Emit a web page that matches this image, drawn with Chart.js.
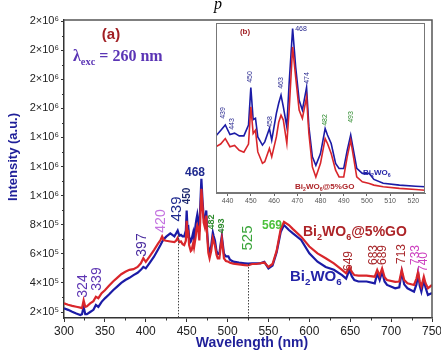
<!DOCTYPE html>
<html><head><meta charset="utf-8">
<script src="https://cdn.jsdelivr.net/npm/chart.js@4.4.0/dist/chart.umd.min.js"></script>
<style>
html,body{margin:0;padding:0;background:#fff;}
#wrap{position:relative;width:441px;height:350px;overflow:hidden;}
#main{position:absolute;left:0;top:0;width:441px;height:350px;}
#inset{position:absolute;left:206px;top:18px;width:224px;height:192px;}
</style></head><body>
<div id="wrap">
<canvas id="main" width="441" height="350"></canvas>
<canvas id="inset" width="224" height="192"></canvas>
</div>
<script>
// ---------- DATA ----------
const wavelengths = [
 300,305,310,315,320,322,324,326,328,332,
 336,339,342,346,350,355,360,365,370,375,
 380,385,390,394,397,400,405,410,415,418,
 420,422,425,430,435,437,439,441,443,445,
 447,449,450,451,452,453,455,456,458,459,
 461,462,463,464,465.5,466.5,468,469.3,470.8,472.2,
 474,475,476.5,478,480,482,483,484.6,486.5,488,
 490,491.5,493,494.2,495.6,498,501,503,507,514,
 521,525,530,535,540,545,550,555,560,565,
 569,575,580,590,600,610,620,630,640,645,
 649,652,655,660,670,680,683,686,689,692,
 695,705,710,713,716,720,728,731,733,735,
 737,740,742,745,750
];
const bi2wo6 = [
 2.25e5,2.15e5,2.02e5,1.90e5,1.80e5,1.85e5,2.36e5,1.85e5,1.85e5,2.00e5,
 2.15e5,2.48e5,2.35e5,2.70e5,2.94e5,3.20e5,3.50e5,3.75e5,4.00e5,4.20e5,
 4.35e5,4.54e5,4.70e5,4.90e5,5.10e5,5.00e5,5.40e5,5.80e5,6.30e5,6.60e5,
 6.83e5,7.00e5,7.18e5,7.40e5,7.20e5,7.40e5,7.60e5,7.25e5,7.30e5,7.20e5,
 7.20e5,7.60e5,8.98e5,7.80e5,7.85e5,7.16e5,6.86e5,6.98e5,7.47e5,7.04e5,
 8.03e5,8.40e5,8.70e5,8.27e5,7.53e5,9.14e5,11.15e5,9.74e5,8.51e5,8.15e5,
 8.98e5,7.53e5,6.43e5,6.12e5,6.55e5,7.47e5,7.23e5,6.92e5,6.19e5,6.00e5,
 6.00e5,6.67e5,7.23e5,6.67e5,6.01e5,5.82e5,5.82e5,5.60e5,5.46e5,5.39e5,
 5.35e5,5.33e5,5.35e5,5.35e5,5.35e5,5.45e5,5.00e5,5.20e5,6.10e5,7.50e5,
 7.98e5,7.64e5,7.40e5,6.95e5,6.03e5,5.46e5,5.10e5,4.90e5,4.54e5,4.30e5,
 4.90e5,4.45e5,4.20e5,4.10e5,4.10e5,3.97e5,4.65e5,4.20e5,4.77e5,4.10e5,
 3.86e5,3.63e5,3.70e5,4.77e5,3.90e5,3.63e5,3.40e5,3.90e5,4.66e5,3.80e5,
 3.40e5,4.20e5,3.70e5,3.17e5,3.30e5
];
const bi2wo6GO = [
 2.60e5,2.50e5,2.42e5,2.36e5,2.30e5,2.27e5,2.80e5,2.36e5,2.40e5,2.60e5,
 2.75e5,3.05e5,2.95e5,3.30e5,3.50e5,3.80e5,4.10e5,4.35e5,4.60e5,4.77e5,
 4.90e5,4.95e5,5.10e5,5.35e5,5.70e5,5.45e5,5.85e5,6.26e5,6.70e5,6.95e5,
 7.20e5,6.95e5,6.90e5,6.85e5,6.80e5,6.90e5,7.10e5,6.80e5,6.85e5,6.67e5,
 6.60e5,6.90e5,8.27e5,7.29e5,7.41e5,6.61e5,6.19e5,6.25e5,6.74e5,6.43e5,
 7.16e5,7.70e5,7.96e5,7.78e5,6.92e5,8.15e5,10.47e5,9.37e5,8.15e5,7.84e5,
 8.63e5,7.29e5,6.06e5,5.69e5,6.19e5,7.10e5,6.92e5,6.55e5,5.94e5,5.69e5,
 5.69e5,6.43e5,7.04e5,6.43e5,5.69e5,5.51e5,5.45e5,5.39e5,5.33e5,5.27e5,
 5.23e5,5.20e5,5.30e5,5.30e5,5.35e5,5.40e5,5.10e5,5.30e5,6.20e5,7.70e5,
 8.20e5,7.98e5,7.70e5,7.18e5,6.50e5,6.03e5,5.70e5,5.35e5,4.90e5,4.66e5,
 5.10e5,4.75e5,4.54e5,4.50e5,4.50e5,4.43e5,4.89e5,4.50e5,5.00e5,4.40e5,
 4.20e5,4.08e5,4.10e5,4.89e5,4.20e5,3.97e5,3.86e5,4.30e5,4.77e5,4.10e5,
 3.75e5,4.43e5,4.00e5,3.63e5,3.86e5
];
const xTicks = [300,350,400,450,500,550,600,650,700,750];
const xMinorTicks = [325,375,425,475,525,575,625,675,725];
const yTickValues = [2e5,4e5,6e5,8e5,1.0e6,1.2e6,1.4e6,1.6e6,1.8e6,2.0e6,2.2e6];
const yTickLabels = ['2×10⁵','4×10⁵','6×10⁵','8×10⁵','1×10⁶','1×10⁶','1×10⁶','2×10⁶','2×10⁶','2×10⁶','2×10⁶'];
const yMinorTicks = [3e5,5e5,7e5,9e5,1.1e6,1.3e6,1.5e6,1.7e6,1.9e6,2.1e6];
const insetXTicks = [440,450,460,470,480,490,500,510,520];
const dropLines = [[439,7.3e5],[525,5.3e5]];

// ---------- STYLE ----------
const SANS = "'Liberation Sans', Arial, sans-serif";
const SERIF = "'Liberation Serif', 'Times New Roman', serif";
const BLUE = '#1b1ba6', RED = '#d9262b';
const NAVY = '#1f1f99', DRED = '#ad2428';

function pts(arr){ return wavelengths.map((w,i)=>({x:w,y:arr[i]})); }

function txt(ctx,s,x,y,font,color,align,base){
  ctx.font=font; ctx.fillStyle=color; ctx.textAlign=align||'center'; ctx.textBaseline=base||'middle';
  ctx.fillText(s,x,y);
}
function rot(ctx,s,x,y,font,color){
  ctx.save(); ctx.translate(x,y); ctx.rotate(-Math.PI/2);
  txt(ctx,s,0,0,font,color,'center','middle'); ctx.restore();
}
function formula(ctx,parts,x,y,size,color,family,weight){
  ctx.fillStyle=color; ctx.textAlign='left'; ctx.textBaseline='alphabetic';
  let cx=x;
  parts.forEach(([s,sub])=>{
    const fs = sub? size*0.65 : size;
    ctx.font = (weight||'bold')+' '+fs+'px '+family;
    ctx.fillText(s,cx,y+(sub?size*0.25:0));
    cx += ctx.measureText(s).width;
  });
}

const mainDecor = {
  id:'mainDecor',
  afterDraw(chart){
    const {ctx, chartArea:a, scales:{x,y}} = chart;
    ctx.save();
    ctx.strokeStyle='#555'; ctx.lineWidth=1.5;
    ctx.beginPath(); ctx.moveTo(a.left,a.top); ctx.lineTo(a.right,a.top); ctx.lineTo(a.right,a.bottom); ctx.stroke();
    ctx.strokeStyle='#333'; ctx.lineWidth=1;
    ctx.beginPath();
    xMinorTicks.forEach(v=>{const p=Math.round(x.getPixelForValue(v))+0.5; ctx.moveTo(p,a.bottom); ctx.lineTo(p,a.bottom+2.5);});
    yMinorTicks.forEach(v=>{const p=Math.round(y.getPixelForValue(v))+0.5; ctx.moveTo(a.left,p); ctx.lineTo(a.left-2,p);});
    ctx.stroke();
    ctx.strokeStyle='#444'; ctx.lineWidth=1; ctx.setLineDash([1.5,1.5]);
    dropLines.forEach(([wx,wy])=>{
      const px=Math.round(x.getPixelForValue(wx))+0.5;
      ctx.beginPath(); ctx.moveTo(px,y.getPixelForValue(wy)); ctx.lineTo(px,a.bottom); ctx.stroke();
    });
    ctx.setLineDash([]);
    txt(ctx,'Wavelength (nm)',252,343,'bold 14px '+SANS,NAVY);
    rot(ctx,'Intensity (a.u.)',13,157,'bold 13px '+SANS,NAVY);
    txt(ctx,'p',218,5,'italic 16px '+SERIF,'#000','center','middle');
    txt(ctx,'(a)',111,35,'bold 15px '+SANS,'#a11f24');
    formula(ctx,[['λ',0],['exc',1],[' = 260 nm',0]],73,61,16,'#5b35b5',SERIF,'bold');
    rot(ctx,'324',83,286,'14px '+SANS,'#5e36b3');
    rot(ctx,'339',97,279,'14px '+SANS,'#5e36b3');
    rot(ctx,'397',142,245,'14px '+SANS,'#4a2c9f');
    rot(ctx,'420',161,221,'14px '+SANS,'#c473e0');
    rot(ctx,'439',177,209,'15px '+SANS,'#1f2a8f');
    rot(ctx,'450',187,196,'bold 10px '+SANS,'#1f2a6f');
    txt(ctx,'468',195,173,'bold 12px '+SANS,'#1f2a8f');
    rot(ctx,'482',212,222,'bold 9px '+SANS,'#2e8b2e');
    rot(ctx,'493',222,226,'bold 9px '+SANS,'#2e8b2e');
    rot(ctx,'525',248,238,'15px '+SANS,'#3aa53a');
    txt(ctx,'569',272,226,'bold 12px '+SANS,'#4cc13c');
    rot(ctx,'649',349,261,'12px '+SANS,'#a8282c');
    rot(ctx,'683',374,255,'12px '+SANS,'#a8282c');
    rot(ctx,'689',383,255,'12px '+SANS,'#a8282c');
    rot(ctx,'713',402,254,'12px '+SANS,'#a8282c');
    rot(ctx,'733',416,255,'12px '+SANS,'#cc3fbf');
    rot(ctx,'740',424,262,'12px '+SANS,'#cc3fbf');
    formula(ctx,[['Bi',0],['2',1],['WO',0],['6',1],['@5%GO',0]],303,236,14,DRED,SANS,'bold');
    formula(ctx,[['Bi',0],['2',1],['WO',0],['6',1]],290,281,15,'#2424a8',SANS,'bold');
    ctx.restore();
  }
};

const OX=206, OY=18;
const insetDecor = {
  id:'insetDecor',
  afterDraw(chart){
    const {ctx, chartArea:a} = chart;
    ctx.save();
    ctx.strokeStyle='#777'; ctx.lineWidth=1;
    ctx.strokeRect(a.left+0.5,a.top+0.5,a.right-a.left-1,a.bottom-a.top-1);
    ctx.translate(-OX,-OY);
    txt(ctx,'(b)',245,32,'bold 8px '+SANS,'#a11f24');
    rot(ctx,'439',223,113,'7px '+SANS,'#2a2a90');
    rot(ctx,'443',232,124,'7px '+SANS,'#2a2a90');
    rot(ctx,'450',250,77,'7px '+SANS,'#2a2a90');
    rot(ctx,'458',270,122,'7px '+SANS,'#2a2a90');
    rot(ctx,'463',281,83,'7px '+SANS,'#2a2a90');
    txt(ctx,'468',301,29,'7px '+SANS,'#2a2a90');
    rot(ctx,'474',307,78,'7px '+SANS,'#2a2a90');
    rot(ctx,'482',325,120,'7px '+SANS,'#2e8b2e');
    rot(ctx,'493',351,117,'7px '+SANS,'#2e8b2e');
    formula(ctx,[['Bi',0],['2',1],['WO',0],['6',1]],363,175,8,'#2424a8',SANS,'bold');
    formula(ctx,[['Bi',0],['2',1],['WO',0],['6',1],['@5%GO',0]],295,189,8,DRED,SANS,'bold');
    ctx.restore();
  }
};

function datasets(w){
  return [
    {label:'Bi2WO6@5%GO', data:pts(bi2wo6GO), borderColor:RED, borderWidth:w, pointRadius:0, tension:0, fill:false},
    {label:'Bi2WO6', data:pts(bi2wo6), borderColor:BLUE, borderWidth:w, pointRadius:0, tension:0, fill:false}
  ];
}

new Chart(document.getElementById('main'), {
  type:'line',
  data:{datasets:datasets(2.2)},
  options:{
    responsive:false, animation:false, events:[],
    layout:{padding:{left:0,top:20,right:9,bottom:0}},
    plugins:{legend:{display:false}, tooltip:{enabled:false}},
    scales:{
      x:{type:'linear', min:300, max:750,
        afterBuildTicks:s=>{s.ticks=xTicks.map(v=>({value:v}));},
        afterFit:s=>{s.height=32; s.paddingLeft=0; s.paddingRight=0;},
        ticks:{autoSkip:false, maxRotation:0, color:'#222', font:{family:SANS,size:12}, padding:2},
        grid:{drawOnChartArea:false, tickLength:4, color:'#333'},
        border:{color:'#333', width:1.5}},
      y:{type:'linear', min:1.59e5, max:2.207e6,
        afterBuildTicks:s=>{s.ticks=yTickValues.map(v=>({value:v}));},
        afterFit:s=>{s.width=64; s.paddingTop=0; s.paddingBottom=0;},
        ticks:{autoSkip:false, callback:(v,i)=>yTickLabels[i], color:'#222', font:{family:SANS,size:11}, padding:2},
        grid:{drawOnChartArea:false, tickLength:3, color:'#333'},
        border:{color:'#333', width:1.5}}
    }
  },
  plugins:[mainDecor]
});

new Chart(document.getElementById('inset'), {
  type:'line',
  data:{datasets:datasets(1.6)},
  options:{
    responsive:false, animation:false, events:[],
    layout:{padding:{left:10,top:5,right:5,bottom:0}},
    plugins:{legend:{display:false}, tooltip:{enabled:false}},
    scales:{
      x:{type:'linear', min:435, max:525,
        afterBuildTicks:s=>{s.ticks=insetXTicks.map(v=>({value:v}));},
        afterFit:s=>{s.height=17; s.paddingLeft=0; s.paddingRight=0;},
        ticks:{autoSkip:false, maxRotation:0, color:'#555', font:{family:SANS,size:7}, padding:1},
        grid:{drawOnChartArea:false, tickLength:3, color:'#666'},
        border:{color:'#777', width:1}},
      y:{display:false, min:5.1e5, max:1.135e6}
    }
  },
  plugins:[insetDecor]
});
</script>
</body></html>
